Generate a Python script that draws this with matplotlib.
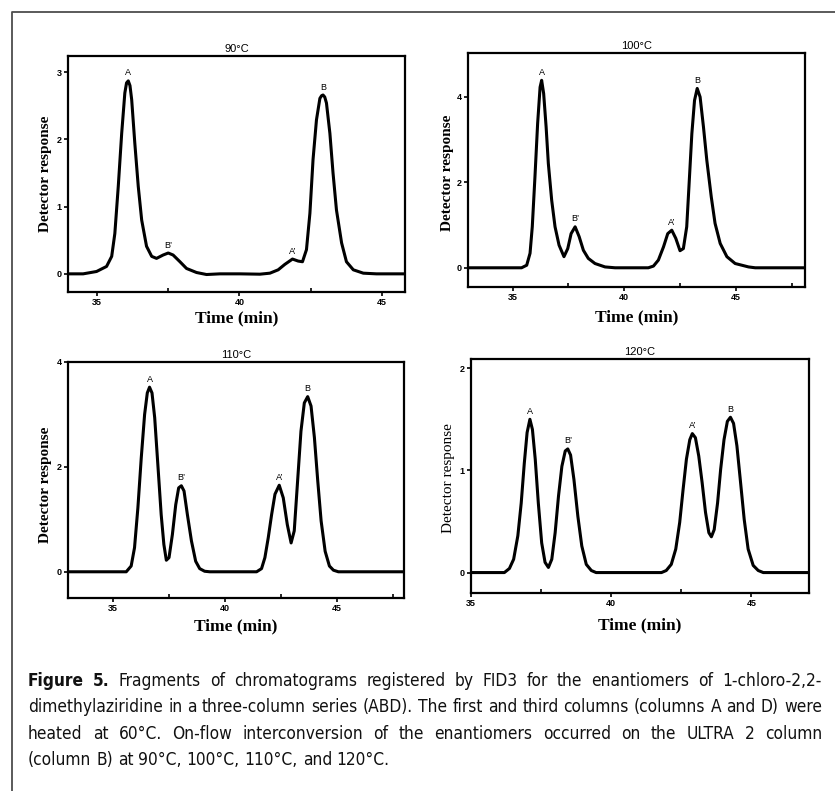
import numpy as np
import matplotlib
matplotlib.use('Agg')
import matplotlib.pyplot as plt
from matplotlib import font_manager
from matplotlib.font_manager import FontProperties
from matplotlib.lines import Line2D

# chromatogram traces (time in min, detector response)
t90 = [34.0, 34.53, 35.0, 35.35, 35.53, 35.64, 35.76, 35.88, 35.99, 36.05, 36.11, 36.17, 36.23,
       36.34, 36.46, 36.58, 36.75, 36.93, 37.1, 37.33, 37.51, 37.68, 37.92, 38.15, 38.5, 38.85,
       39.32, 40.02, 40.72, 41.07, 41.36, 41.59, 41.86, 42.06, 42.21, 42.35, 42.47, 42.58, 42.7,
       42.82, 42.88, 42.93, 42.99, 43.05, 43.17, 43.28, 43.4, 43.58, 43.75, 43.99, 44.34, 44.8,
       45.8]
r90 = [0, 0, 0.035, 0.11, 0.26, 0.6, 1.3, 2.09, 2.69, 2.84, 2.87, 2.8, 2.59,
       1.94, 1.3, 0.8, 0.41, 0.26, 0.23, 0.28, 0.31, 0.28, 0.18, 0.08, 0.02, -0.01,
       0, 0, -0.005, 0.01, 0.06, 0.14, 0.22, 0.19, 0.18, 0.36, 0.9, 1.7, 2.29,
       2.61, 2.65, 2.66, 2.63, 2.54, 2.09, 1.5, 0.95, 0.46, 0.18, 0.06, 0.01, 0,
       0]

t100 = [33.0, 35.4, 35.63, 35.78, 35.88, 36.0, 36.12, 36.23, 36.3, 36.39, 36.5, 36.6, 36.75,
        36.9, 37.08, 37.3, 37.47, 37.62, 37.8, 37.98, 38.17, 38.39, 38.69, 39.14, 39.59, 41.08,
        41.31, 41.53, 41.76, 41.95, 42.13, 42.31, 42.5, 42.65, 42.8, 42.9, 43.03, 43.15, 43.27,
        43.4, 43.55, 43.7, 43.9, 44.07, 44.3, 44.6, 44.97, 45.57, 45.87, 48.1]
r100 = [0, 0, 0.06, 0.34, 0.96, 2.13, 3.38, 4.23, 4.39, 4.08, 3.3, 2.44, 1.58,
        0.96, 0.53, 0.26, 0.45, 0.8, 0.96, 0.73, 0.41, 0.22, 0.1, 0.02, 0, 0,
        0.04, 0.18, 0.49, 0.8, 0.88, 0.69, 0.4, 0.45, 0.96, 1.9, 3.14, 3.92, 4.2,
        4.0, 3.3, 2.52, 1.66, 1.04, 0.57, 0.26, 0.1, 0.02, 0, 0]

t110 = [33.0, 35.6, 35.82, 35.97, 36.12, 36.27, 36.42, 36.54, 36.64, 36.75, 36.87, 37.01, 37.16,
        37.28, 37.39, 37.51, 37.66, 37.81, 37.94, 38.06, 38.18, 38.33, 38.51, 38.7, 38.88, 39.1,
        39.33, 41.42, 41.64, 41.79, 41.94, 42.09, 42.24, 42.43, 42.61, 42.79, 42.96, 43.1, 43.25,
        43.4, 43.55, 43.7, 43.85, 44.0, 44.15, 44.3, 44.48, 44.67, 44.85, 45.07, 48.0]
r110 = [0, 0, 0.11, 0.46, 1.22, 2.17, 3.0, 3.41, 3.52, 3.41, 2.94, 2.05, 1.09,
        0.52, 0.22, 0.27, 0.71, 1.28, 1.6, 1.64, 1.54, 1.09, 0.59, 0.2, 0.06, 0.01,
        0, 0, 0.06, 0.27, 0.65, 1.09, 1.48, 1.65, 1.41, 0.9, 0.55, 0.78, 1.73,
        2.68, 3.22, 3.34, 3.16, 2.56, 1.73, 0.97, 0.39, 0.11, 0.03, 0, 0]

t120 = [35.0, 36.19, 36.37, 36.52, 36.67, 36.79, 36.9, 37.0, 37.1, 37.19, 37.29, 37.4, 37.52,
        37.64, 37.76, 37.88, 38.0, 38.12, 38.24, 38.36, 38.45, 38.55, 38.67, 38.81, 38.95, 39.11,
        39.29, 39.46, 41.79, 41.96, 42.14, 42.3, 42.44, 42.56, 42.68, 42.8, 42.89, 43.0, 43.12,
        43.24, 43.36, 43.48, 43.57, 43.67, 43.79, 43.9, 44.02, 44.14, 44.25, 44.36, 44.48, 44.6,
        44.74, 44.88, 45.06, 45.24, 45.42, 47.05]
r120 = [0, 0, 0.04, 0.13, 0.36, 0.68, 1.07, 1.37, 1.5, 1.4, 1.11, 0.68, 0.29,
        0.1, 0.05, 0.13, 0.39, 0.75, 1.04, 1.19, 1.21, 1.15, 0.91, 0.55, 0.26, 0.08,
        0.02, 0, 0, 0.02, 0.08, 0.23, 0.49, 0.81, 1.11, 1.3, 1.36, 1.32, 1.14,
        0.88, 0.59, 0.39, 0.35, 0.42, 0.68, 1.01, 1.3, 1.48, 1.52, 1.46, 1.24, 0.91,
        0.52, 0.23, 0.07, 0.02, 0, 0]

# peak labels and retention times
peak_names = ['A', 'B\u2019', 'A\u2019', 'B']
peaks90 = [36.11, 37.51, 41.86, 42.93]
peaks100 = [36.3, 37.8, 42.13, 43.27]
peaks110 = [36.64, 38.06, 42.43, 43.7]
peaks120 = [37.1, 38.45, 42.89, 44.25]

titles = ['90\u00b0C', '100\u00b0C', '110\u00b0C', '120\u00b0C']
xticks = [35, 40, 45]

caption = [
    'Figure 5. Fragments of chromatograms registered by FID3 for the enantiomers of 1-chloro-2,2-',
    'dimethylaziridine in a three-column series (ABD). The first and third columns (columns A and D) were',
    'heated at 60\u00b0C. On-flow interconversion of the enantiomers occurred on the ULTRA 2 column',
    '(column B) at 90\u00b0C, 100\u00b0C, 110\u00b0C, and 120\u00b0C.',
]

W, H = 835, 791
fig = plt.figure(figsize=(W / 100, H / 100), dpi=100)

panels = [
    # traces, peaks, rect (px: left, top, right, bottom), xlim, ylim, yticks, label coords
    (t90, r90, peaks90, (68, 56, 405, 292), (34.0, 45.8), (-0.27, 3.24), [0, 1, 2, 3],
     (-0.11, -0.068, 0.5), 'bold'),
    (t100, r100, peaks100, (468, 53, 805, 287), (33.0, 48.1), (-0.45, 5.03), [0, 2, 4],
     (-0.13, -0.06, 0.487), 'bold'),
    (t110, r110, peaks110, (68, 362, 404, 598), (33.0, 48.0), (-0.5, 4.0), [0, 2, 4],
     (-0.12, -0.067, 0.48), 'bold'),
    (t120, r120, peaks120, (471, 359, 809, 593), (35.0, 47.05), (-0.2, 2.09), [0, 1, 2],
     (-0.14, -0.067, 0.49), 'normal'),
]

for i, (t, r, pk, rect, xl, yl, yt, lc, ywt) in enumerate(panels):
    l, tp, rt, bt = rect
    ax = fig.add_axes([l / W, 1 - bt / H, (rt - l) / W, (bt - tp) / H])
    ax.plot(t, r, color='black', lw=2.2, solid_joinstyle='round', solid_capstyle='round')
    ax.set_xlim(*xl)
    ax.set_ylim(*yl)
    ax.set_xticks(xticks)
    ax.set_xticks([x for x in [37.5, 42.5, 47.5] if x < xl[1]], minor=True)
    ax.set_yticks(yt)
    for s in ax.spines.values():
        s.set_linewidth(1.6)
    ax.tick_params(which='major', direction='out', length=3, width=1.2, pad=1.5,
                   labelsize=6.5)
    ax.tick_params(which='minor', direction='in', length=3, width=1.2)
    for lab in ax.get_xticklabels() + ax.get_yticklabels():
        lab.set_family('Liberation Sans')
        lab.set_fontweight('bold')
    ax.set_title(titles[i], fontsize=8, family='Liberation Sans', pad=3)

    for name, x in zip(peak_names, pk):
        y = np.interp(x, t, r)
        ax.annotate(name, (x, y), xytext=(0, 2.5), textcoords='offset points',
                    ha='center', va='bottom', fontsize=6.5, family='Liberation Sans')

    ax.set_xlabel('Time (min)', family='Liberation Serif', weight='bold', fontsize=12.5,
                  va='center')
    ax.xaxis.set_label_coords(0.5, lc[0])
    ax.set_ylabel('Detector response', family='Liberation Serif', weight=ywt, fontsize=11,
                  va='center')
    ax.yaxis.set_label_coords(lc[1], lc[2])

# outer frame (only top and left edges show in the crop)
fig.add_artist(Line2D([12 / W, 12 / W, 1.0], [0.0, 1 - 11.5 / H, 1 - 11.5 / H],
                      transform=fig.transFigure, color='#4d4d4d', lw=1.3))

# caption font: a narrow face if one is installed
cond = [f for f in font_manager.fontManager.ttflist
        if f.style == 'normal' and ('Narrow' in f.name or 'Condensed' in f.name
                                    or str(f.stretch) in ('condensed', 'semi-condensed'))]
reg = [f for f in cond if f.weight in (400, 'normal', 'regular', 'book')]
bld = [f for f in cond if f.weight in (700, 'bold')]
if reg and bld:
    fp_reg = FontProperties(fname=reg[0].fname)
    fp_bold = FontProperties(fname=bld[0].fname)
else:
    fp_reg = FontProperties(family='Liberation Sans')
    fp_bold = FontProperties(family='Liberation Sans', weight='bold')

renderer = fig.canvas.get_renderer()


def text_width(s, size, fp):
    tt = fig.text(0, 0, s, fontproperties=fp, fontsize=size)
    w = tt.get_window_extent(renderer).width
    tt.remove()
    return w


# size the caption so the longest line fills the column with plain spaces
x0, x1 = 28, 822
ref_size = 12
cap_size = ref_size * (x1 - x0) / text_width(caption[1], ref_size, fp_reg) * 0.995
space_w = text_width('a a', cap_size, fp_reg) - text_width('aa', cap_size, fp_reg)

line_y = [681, 707, 734, 760]
for k, line in enumerate(caption):
    words = line.split(' ')
    objs = []
    for j, w in enumerate(words):
        fp = fp_bold if (k == 0 and j < 2) else fp_reg
        objs.append(fig.text(0, 1 - line_y[k] / H, w, fontproperties=fp, fontsize=cap_size,
                             va='center', ha='left', color='#111111'))
    widths = [o.get_window_extent(renderer).width for o in objs]
    if k < len(caption) - 1:
        gap = (x1 - x0 - sum(widths)) / (len(objs) - 1)
    else:
        gap = space_w
    x = x0
    for o, w in zip(objs, widths):
        o.set_x(x / W)
        x += w + gap

fig.savefig('out.png', dpi=100)
